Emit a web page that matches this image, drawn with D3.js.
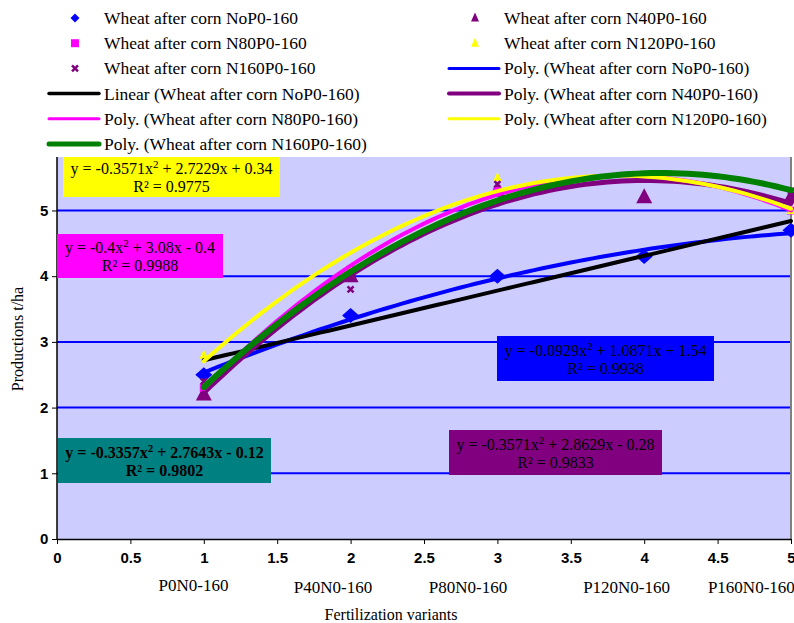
<!DOCTYPE html>
<html><head><meta charset="utf-8">
<script src="https://cdn.jsdelivr.net/npm/d3@7"></script>
<style>body{margin:0;background:#fff}svg{display:block}</style>
</head><body><svg id="c" width="794" height="623"></svg>
<script>
const xValues = [1, 2, 3, 4, 5];
const noP0 = [2.5, 3.4, 4.0, 4.3, 4.7];
const n40 = [2.2, 4.0, 5.3, 5.2, 5.2];
const n80 = [2.3, 4.1, 5.3, 5.5, 5.0];
const n120 = [2.8, 4.1, 5.5, 5.5, 5.0];
const n160 = [2.4, 3.8, 5.4, 5.5, 5.3];
const xTicks = [0, 0.5, 1, 1.5, 2, 2.5, 3, 3.5, 4, 4.5, 5];
const yTicks = [0, 1, 2, 3, 4, 5];
const categoryLabels = ["P0N0-160", "P40N0-160", "P80N0-160", "P120N0-160", "P160N0-160"];
const categoryPos = [0.93, 1.88, 2.8, 3.88, 4.73];
const seriesNames = ["Wheat after corn NoP0-160", "Wheat after corn N40P0-160", "Wheat after corn N80P0-160", "Wheat after corn N120P0-160", "Wheat after corn N160P0-160"];
const eqN120 = ["y = -0.3571x", " + 2.7229x + 0.34", "R² = 0.9775"];
const eqN80 = ["y = -0.4x", " + 3.08x - 0.4", "R² = 0.9988"];
const eqNoP0 = ["y = -0.0929x", " + 1.0871x + 1.54", "R² = 0.9938"];
const eqN40 = ["y = -0.3571x", " + 2.8629x - 0.28", "R² = 0.9833"];
const eqN160 = ["y = -0.3357x", " + 2.7643x - 0.12", "R² = 0.9802"];

const svg = d3.select("#c");
const L = 57, R = 791, T = 157, B = 539;
const x = d3.scaleLinear().domain([0, 5]).range([L, R]);
const y = d3.scaleLinear().domain([0, 5.814]).range([B, T]);
const serif = "'Liberation Serif','Times New Roman',serif";
const sans = "'Liberation Sans',Arial,sans-serif";

// least squares polynomial fit
function polyfit(xs, ys, deg) {
  const n = deg + 1;
  const A = Array.from({length: n}, () => new Array(n + 1).fill(0));
  for (let i = 0; i < xs.length; i++) {
    for (let r = 0; r < n; r++) {
      for (let c = 0; c < n; c++) A[r][c] += Math.pow(xs[i], r + c);
      A[r][n] += ys[i] * Math.pow(xs[i], r);
    }
  }
  for (let i = 0; i < n; i++) {
    let p = i;
    for (let k = i + 1; k < n; k++) if (Math.abs(A[k][i]) > Math.abs(A[p][i])) p = k;
    [A[i], A[p]] = [A[p], A[i]];
    for (let k = 0; k < n; k++) if (k !== i) {
      const f = A[k][i] / A[i][i];
      for (let c = i; c <= n; c++) A[k][c] -= f * A[i][c];
    }
  }
  const coef = A.map((row, i) => row[n] / row[i]);
  return t => coef.reduce((s, c, i) => s + c * Math.pow(t, i), 0);
}

// plot background
svg.append("rect").attr("x", L).attr("y", T).attr("width", R - L).attr("height", B - T).attr("fill", "#CCCCFF");
// gridlines
svg.append("g").selectAll("line").data(yTicks.filter(d => d > 0)).join("line")
  .attr("x1", L).attr("x2", R).attr("y1", d => y(d)).attr("y2", d => y(d))
  .attr("stroke", "#0000FF").attr("stroke-width", 2);
// right border
svg.append("line").attr("x1", R).attr("x2", R).attr("y1", T).attr("y2", B).attr("stroke", "#808080").attr("stroke-width", 2);

// axes
const xAxis = svg.append("g").attr("transform", `translate(0,${B})`)
  .call(d3.axisBottom(x).tickValues(xTicks).tickFormat(d3.format("")).tickSize(5).tickSizeOuter(0));
const yAxis = svg.append("g").attr("transform", `translate(${L},0)`)
  .call(d3.axisLeft(y).tickValues(yTicks).tickFormat(d3.format("d")).tickSize(5).tickSizeOuter(0));
[xAxis, yAxis].forEach(g => {
  g.select(".domain").attr("stroke", "#000").attr("stroke-width", 1.5);
  g.selectAll(".tick line").attr("stroke", "#000");
  g.selectAll("text").attr("font-family", sans).attr("font-weight", "bold").attr("font-size", 15).attr("fill", "#000");
});
yAxis.select(".domain").attr("d", `M0,${B}V${T}`);
xAxis.selectAll("text").attr("dy", "1.05em");
yAxis.selectAll("text").attr("dx", "-0.05em");

// equation boxes
function eqBox(eq, x0, y0, w, h, fill, bold) {
  const g = svg.append("g");
  g.append("rect").attr("x", x0).attr("y", y0).attr("width", w).attr("height", h).attr("fill", fill);
  const cx = x0 + w / 2;
  const t1 = g.append("text").attr("x", cx).attr("y", y0 + h / 2 - 3).attr("text-anchor", "middle")
    .attr("font-family", serif).attr("font-size", 16).attr("font-weight", bold ? "bold" : "normal").attr("fill", "#000");
  t1.append("tspan").text(eq[0]);
  t1.append("tspan").attr("dy", -6).attr("font-size", 11).text("2");
  t1.append("tspan").attr("dy", 6).text(eq[1]);
  g.append("text").attr("x", cx).attr("y", y0 + h / 2 + 15).attr("text-anchor", "middle")
    .attr("font-family", serif).attr("font-size", 16).attr("font-weight", bold ? "bold" : "normal").attr("fill", "#000").text(eq[2]);
}
eqBox(eqN120, 63, 157, 217, 40, "#FFFF00", false);
eqBox(eqN80, 57, 234, 166, 44, "#FF00FF", false);
eqBox(eqNoP0, 497, 336, 217, 45, "#0000FF", false);
eqBox(eqN40, 449, 430, 213, 45, "#800080", false);
eqBox(eqN160, 58, 438, 213, 45, "#008080", true);

// markers
function diamond(w, h) { return `M0,${-h}L${w},0L0,${h}L${-w},0Z`; }
function tri(w, h) { return `M0,${-h * 0.6}L${w},${h * 0.4}L${-w},${h * 0.4}Z`; }
function sq(s) { return `M${-s},${-s}H${s}V${s}H${-s}Z`; }
function cross(s) { return `M${-s},${-s}L${s},${s}M${s},${-s}L${-s},${s}`; }

function drawMarkers(vals, path, fill, stroke, sw) {
  svg.append("g").selectAll("path").data(vals).join("path")
    .attr("transform", (d, i) => `translate(${x(xValues[i])},${y(d)})`)
    .attr("d", path).attr("fill", fill).attr("stroke", stroke || "none").attr("stroke-width", sw || 0);
}
drawMarkers(noP0, diamond(8.5, 7.5), "#0000FF");
drawMarkers(n40, tri(8, 15), "#800080");
drawMarkers(n80, sq(4), "#FF00FF");
drawMarkers(n120, tri(4.5, 9), "#FFFF00");
drawMarkers(n160, cross(3), "none", "#800080", 2.5);

// trendlines
const samples = d3.range(1, 5.0001, 0.05);
const line = f => d3.line().x(t => x(t)).y(t => y(f(t)))(samples);
const trends = [
  {f: polyfit(xValues, noP0, 2), c: "#0000FF", w: 4},
  {f: polyfit(xValues, noP0, 1), c: "#000000", w: 4},
  {f: polyfit(xValues, n40, 2), c: "#800080", w: 5},
  {f: polyfit(xValues, n80, 2), c: "#FF00FF", w: 4},
  {f: polyfit(xValues, n120, 2), c: "#FFFF00", w: 4},
  {f: polyfit(xValues, n160, 2), c: "#008000", w: 6}
];
trends.forEach(t => svg.append("path").attr("d", line(t.f)).attr("fill", "none")
  .attr("stroke", t.c).attr("stroke-width", t.w).attr("stroke-linecap", "round"));

// legend
const legendItems = [
  {col: 0, row: 0, text: seriesNames[0], m: diamond(4.5, 4.5), fill: "#0000FF"},
  {col: 1, row: 0, text: seriesNames[1], m: tri(4, 9), fill: "#800080"},
  {col: 0, row: 1, text: seriesNames[2], m: sq(4), fill: "#FF00FF"},
  {col: 1, row: 1, text: seriesNames[3], m: tri(4, 9), fill: "#FFFF00"},
  {col: 0, row: 2, text: seriesNames[4], m: cross(3), stroke: "#800080"},
  {col: 1, row: 2, text: "Poly. (" + seriesNames[0] + ")", lc: "#0000FF", lw: 3},
  {col: 0, row: 3, text: "Linear (" + seriesNames[0] + ")", lc: "#000000", lw: 3.5},
  {col: 1, row: 3, text: "Poly. (" + seriesNames[1] + ")", lc: "#800080", lw: 4},
  {col: 0, row: 4, text: "Poly. (" + seriesNames[2] + ")", lc: "#FF00FF", lw: 3},
  {col: 1, row: 4, text: "Poly. (" + seriesNames[3] + ")", lc: "#FFFF00", lw: 3},
  {col: 0, row: 5, text: "Poly. (" + seriesNames[4] + ")", lc: "#008000", lw: 5}
];
const lg = svg.append("g");
legendItems.forEach(it => {
  const bx = it.col === 0 ? 0 : 400;
  const cy = 18 + it.row * 25.2;
  if (it.m) {
    lg.append("path").attr("transform", `translate(${bx + 75},${cy})`).attr("d", it.m)
      .attr("fill", it.fill || "none").attr("stroke", it.stroke || "none").attr("stroke-width", it.stroke ? 2.5 : 0);
  } else {
    lg.append("line").attr("x1", bx + 49).attr("x2", bx + 99).attr("y1", cy).attr("y2", cy)
      .attr("stroke", it.lc).attr("stroke-width", it.lw).attr("stroke-linecap", "round");
  }
  lg.append("text").attr("x", bx + 104).attr("y", cy + 6).attr("font-family", serif).attr("font-size", 17.5)
    .attr("fill", "#000").text(it.text);
});

// category labels
svg.append("g").selectAll("text").data(categoryLabels).join("text")
  .attr("x", (d, i) => x(categoryPos[i])).attr("y", (d, i) => i === 0 ? 591 : 593)
  .attr("text-anchor", "middle").attr("font-family", serif).attr("font-size", 17).attr("fill", "#000").text(d => d);

// axis titles
svg.append("text").attr("x", 391).attr("y", 620).attr("text-anchor", "middle").attr("font-family", serif)
  .attr("font-size", 16).attr("fill", "#000").text("Fertilization variants");
svg.append("text").attr("transform", "translate(23,339) rotate(-90)").attr("text-anchor", "middle")
  .attr("font-family", serif).attr("font-size", 16).attr("fill", "#000").text("Productions t/ha");
</script></body></html>
